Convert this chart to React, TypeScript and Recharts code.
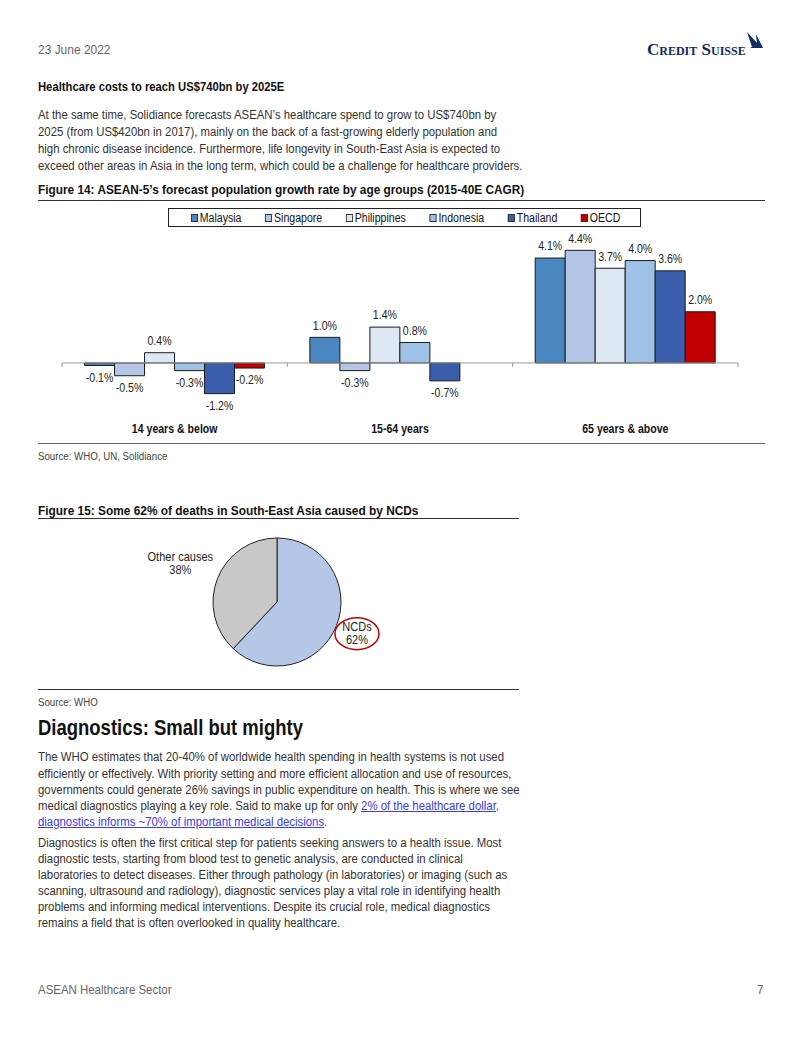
import React from 'react';
import { Bar, BarChart, LabelList, Legend, Pie, PieChart, ReferenceLine, XAxis, YAxis, Cell } from 'recharts';

const ageGroups = ['14 years & below', '15-64 years', '65 years & above'];
const malaysia = [-0.1, 1.0, 4.1];
const singapore = [-0.5, -0.3, 4.4];
const philippines = [0.4, 1.4, 3.7];
const indonesia = [-0.3, 0.8, 4.0];
const thailand = [-1.2, -0.7, 3.6];
const oecd = [-0.2, 0.0, 2.0];

const seriesNames = ['Malaysia', 'Singapore', 'Philippines', 'Indonesia', 'Thailand', 'OECD'];
const seriesColors = ['#4A86BF', '#B3C6E6', '#DDE8F4', '#9EC2E6', '#3A5EAB', '#C00000'];
const seriesValues = [malaysia, singapore, philippines, indonesia, thailand, oecd];

const deathCauses = ['NCDs', 'Other causes'];
const deathShares = [62, 38];
const deathColors = ['#B4C7E7', '#C8C8C8'];

const growthData = ageGroups.map((group, i) => {
  const row: Record<string, string | number> = { group };
  seriesNames.forEach((name, s) => {
    row[name] = seriesValues[s][i];
  });
  return row;
});

const deathData = deathCauses.map((name, i) => ({ name, value: deathShares[i] }));

const SANS = '"Liberation Sans", Arial, Helvetica, sans-serif';
// no narrow face installed, so squeeze the chart text horizontally
const NARROW_SX = 0.88;

function Text({ x, y, size = 12.5, sx = 0.91, children, style }: { x: number; y: number; size?: number; sx?: number; children: React.ReactNode; style?: React.CSSProperties }) {
  const lh = Math.round(size * 1.2);
  return (
    <div
      style={{
        position: 'absolute', left: x, top: y - lh / 2, lineHeight: `${lh}px`, fontSize: size, whiteSpace: 'nowrap',
        transform: `scaleX(${sx})`, transformOrigin: 'left center', ...style,
      }}
    >
      {children}
    </div>
  );
}

function Rule({ x, y, w, color = '#333' }: { x: number; y: number; w: number; color?: string }) {
  return <div style={{ position: 'absolute', left: x, top: y, width: w, height: 1, background: color }} />;
}

const renderLegend = () => (
  <div style={{ paddingBottom: 8 }}>
    <div style={{ marginLeft: 106, width: 471, height: 17, border: '1px solid #222', position: 'relative', overflow: 'hidden' }}>
      <div
        style={{
          position: 'absolute', left: 22, top: 0, height: 17, display: 'flex', alignItems: 'center',
          transform: `scaleX(${NARROW_SX})`, transformOrigin: 'left center', fontFamily: SANS, fontSize: 12, color: '#111', whiteSpace: 'nowrap',
        }}
      >
        {seriesNames.map((name, i) => (
          <span key={name} style={{ display: 'flex', alignItems: 'center', marginRight: 27 }}>
            <span style={{ width: 6, height: 6, background: seriesColors[i], border: '1px solid #333', marginRight: 2 }} />
            {name}
          </span>
        ))}
      </div>
    </div>
  </div>
);

const renderBarLabel = (props: any) => {
  const { x, y, width, height, value } = props;
  const top = Math.min(y, y + height);
  const bottom = Math.max(y, y + height);
  const cy = value > 0 ? top - 12 : bottom + 12;
  return (
    <text transform={`translate(${x + width / 2},${cy}) scale(${NARROW_SX},1)`} textAnchor="middle" dominantBaseline="central" fontFamily={SANS} fontSize={12} fill="#222">
      {`${Number(value).toFixed(1)}%`}
    </text>
  );
};

const CategoryTick = (props: any) => {
  const { x, y, payload } = props;
  return (
    <text transform={`translate(${x},${y + 12}) scale(${NARROW_SX},1)`} textAnchor="middle" dominantBaseline="central" fontFamily={SANS} fontSize={12} fontWeight="bold" fill="#111">
      {payload.value}
    </text>
  );
};

const ZeroAxis = (props: any) => {
  const { x1, x2, y1 } = props;
  const step = (x2 - x1) / ageGroups.length;
  return (
    <g>
      <line x1={x1} x2={x2} y1={y1} y2={y1} stroke="#999" strokeWidth={1} />
      {ageGroups.concat(['']).map((_, i) => (
        <line key={i} x1={x1 + i * step} x2={x1 + i * step} y1={y1} y2={y1 + 4} stroke="#999" strokeWidth={1} />
      ))}
    </g>
  );
};

const RADIAN = Math.PI / 180;
const labelGap = [22, 40];

const renderPieLabel = (props: any) => {
  const { cx, cy, midAngle, outerRadius, index, name, value } = props;
  const r = outerRadius + labelGap[index];
  const x = cx + r * Math.cos(-midAngle * RADIAN);
  const y = cy + r * Math.sin(-midAngle * RADIAN);
  return (
    <g>
      {index === 0 && <ellipse cx={x} cy={y} rx={22} ry={16} fill="none" stroke="#C00000" strokeWidth={1.5} />}
      <text transform={`translate(${x},${y - 6.5}) scale(0.92,1)`} textAnchor="middle" dominantBaseline="central" fontFamily={SANS} fontSize={12} fill="#222">
        {name}
      </text>
      <text transform={`translate(${x},${y + 6.5}) scale(0.92,1)`} textAnchor="middle" dominantBaseline="central" fontFamily={SANS} fontSize={12} fill="#222">
        {`${value}%`}
      </text>
    </g>
  );
};

const LINK = { color: '#3B3BEA', textDecoration: 'underline' };

export default function App() {
  return (
    <div style={{ position: 'absolute', left: 0, top: 0, width: 802, height: 1037, background: '#fff', overflow: 'hidden', fontFamily: SANS, color: '#333' }}>
      <Text x={38} y={50} size={13} sx={0.92} style={{ color: '#666' }}>23 June 2022</Text>
      <div style={{ position: 'absolute', left: 647, top: 40, fontFamily: '"Liberation Serif", serif', fontVariant: 'small-caps', fontSize: 17, fontWeight: 600, color: '#0D2B5E', letterSpacing: 0, lineHeight: '20px' }}>
        Credit Suisse
      </div>
      <svg style={{ position: 'absolute', left: 0, top: 0 }} width={802} height={60}>
        <polygon points="747,32 758,44 752,47" fill="#0D2B5E" />
        <polygon points="756,34 763,48 750,48 757,44" fill="#0D2B5E" />
      </svg>

      <Text x={38} y={87} size={12.5} sx={0.9} style={{ fontWeight: 'bold', color: '#111' }}>Healthcare costs to reach US$740bn by 2025E</Text>
      <Text x={38} y={115}>At the same time, Solidiance forecasts ASEAN’s healthcare spend to grow to US$740bn by</Text>
      <Text x={38} y={132}>2025 (from US$420bn in 2017), mainly on the back of a fast-growing elderly population and</Text>
      <Text x={38} y={149}>high chronic disease incidence. Furthermore, life longevity in South-East Asia is expected to</Text>
      <Text x={38} y={166}>exceed other areas in Asia in the long term, which could be a challenge for healthcare providers.</Text>

      <Text x={38} y={190} size={13} sx={0.91} style={{ fontWeight: 'bold', color: '#111' }}>
        Figure 14: ASEAN-5’s forecast population growth rate by age groups (2015-40E CAGR)
      </Text>
      <Rule x={38} y={200} w={727} />

      <div style={{ position: 'absolute', left: 38, top: 203 }}>
        <BarChart width={727} height={236} data={growthData} margin={{ top: 5, right: 27, bottom: 0, left: 24 }} barCategoryGap="10%" barGap={0}>
          <Legend verticalAlign="top" content={renderLegend} />
          <XAxis dataKey="group" axisLine={false} tickLine={false} interval={0} tick={<CategoryTick />} />
          <YAxis hide domain={[-1.8, 5]} />
          <ReferenceLine y={0} shape={ZeroAxis} />
          {seriesNames.map((name, i) => (
            <Bar key={name} dataKey={name} fill={seriesColors[i]} stroke="#1c1c1c" strokeWidth={1} isAnimationActive={false}>
              <LabelList dataKey={name} content={renderBarLabel} />
            </Bar>
          ))}
        </BarChart>
      </div>
      <Rule x={38} y={443} w={727} color="#666" />
      <Text x={38} y={457} size={10} sx={0.97} style={{ color: '#444' }}>Source: WHO, UN, Solidiance</Text>

      <Text x={38} y={511} size={12} sx={0.99} style={{ fontWeight: 'bold', color: '#111' }}>
        Figure 15: Some 62% of deaths in South-East Asia caused by NCDs
      </Text>
      <Rule x={38} y={518} w={481} />
      <div style={{ position: 'absolute', left: 38, top: 520 }}>
        <PieChart width={481} height={165} margin={{ top: 0, right: 0, bottom: 0, left: 0 }}>
          <Pie data={deathData} dataKey="value" nameKey="name" cx={239} cy={82} outerRadius={64} startAngle={90} endAngle={-270}
            stroke="#222" strokeWidth={1} label={renderPieLabel} labelLine={false} isAnimationActive={false}>
            {deathData.map((d, i) => (
              <Cell key={d.name} fill={deathColors[i]} />
            ))}
          </Pie>
        </PieChart>
      </div>
      <Rule x={38} y={689} w={481} />
      <Text x={38} y={703} size={10} sx={0.97} style={{ color: '#444' }}>Source: WHO</Text>

      <Text x={38} y={728} size={22} sx={0.84} style={{ fontWeight: 'bold', color: '#111' }}>Diagnostics: Small but mighty</Text>
      <Text x={38} y={757}>The WHO estimates that 20-40% of worldwide health spending in health systems is not used</Text>
      <Text x={38} y={774}>efficiently or effectively. With priority setting and more efficient allocation and use of resources,</Text>
      <Text x={38} y={790}>governments could generate 26% savings in public expenditure on health. This is where we see</Text>
      <Text x={38} y={806}>
        medical diagnostics playing a key role. Said to make up for only <span style={LINK}>2% of the healthcare dollar,</span>
      </Text>
      <Text x={38} y={822}>
        <span style={LINK}>diagnostics informs ~70% of important medical decisions</span>.
      </Text>
      <Text x={38} y={843}>Diagnostics is often the first critical step for patients seeking answers to a health issue. Most</Text>
      <Text x={38} y={859}>diagnostic tests, starting from blood test to genetic analysis, are conducted in clinical</Text>
      <Text x={38} y={875}>laboratories to detect diseases. Either through pathology (in laboratories) or imaging (such as</Text>
      <Text x={38} y={891}>scanning, ultrasound and radiology), diagnostic services play a vital role in identifying health</Text>
      <Text x={38} y={907}>problems and informing medical interventions. Despite its crucial role, medical diagnostics</Text>
      <Text x={38} y={923}>remains a field that is often overlooked in quality healthcare.</Text>

      <Text x={38} y={990} size={13} sx={0.88} style={{ color: '#666' }}>ASEAN Healthcare Sector</Text>
      <Text x={757} y={990} size={13} sx={0.9} style={{ color: '#666' }}>7</Text>
    </div>
  );
}
